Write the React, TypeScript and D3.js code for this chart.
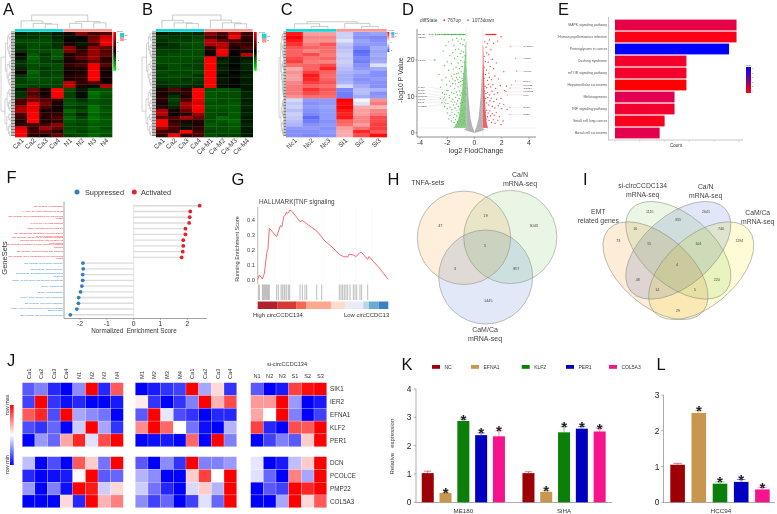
import React from "react";
import * as d3 from "d3";

// heatmaps A, B, C (z-scores read by eye, one row per visible band)
const samplesA = ["Ca1", "Ca2", "Ca3", "Ca4", "N1", "N2", "N3", "N4"];
const samplesB = ["Ca1", "Ca2", "Ca3", "Ca4", "Ca-M1", "Ca-M2", "Ca-M3", "Ca-M4"];
const samplesC = ["Nc1", "Nc2", "Nc3", "Si1", "Si2", "Si3"];

const heatA = [
  [-.15, -.2, -.2, -.1, .1, .55, .25, .35], [-.2, -.2, -.25, -.15, -.05, .05, .45, .8],
  [-.3, -.3, -.3, -.2, .05, -.05, .5, .95], [-.25, -.3, -.3, -.2, .1, -.1, .25, .9],
  [-.2, -.3, -.25, -.2, .55, .1, .55, .4], [-.2, -.3, -.3, -.35, .5, .2, .6, .3],
  [.05, -.35, -.2, -.35, .1, .25, .6, .4], [-.1, -.4, -.25, -.35, .15, .4, .6, .15],
  [-.2, -.35, -.25, -.2, .1, .15, .45, .2], [-.2, -.3, -.3, -.3, .2, .3, .95, .35],
  [-.15, -.3, -.2, -.3, .1, .1, .95, .1], [.05, -.4, -.25, -.25, .05, .1, 1, .05],
  [-.2, -.35, -.25, -.3, .15, .2, 1, .1], [-.25, -.35, -.3, -.3, .1, .15, 1, .05],
  [-.25, -.3, -.3, -.25, .7, .2, .35, .1], [-.3, -.25, -.25, -.25, .75, .1, -.05, .75],
  [-.1, .45, .1, 1, -.3, -.1, -.3, -.3], [-.2, .3, .05, 1, -.25, -.05, -.45, -.35],
  [-.2, .45, .15, 1, -.25, -.05, -.4, -.3], [.3, .5, .35, .2, -.3, -.2, -.35, -.3],
  [.3, .95, .45, .1, -.35, -.3, -.35, -.3], [.6, .9, .3, .05, -.25, -.2, -.45, -.3],
  [.7, .95, .1, .1, -.4, -.3, -.45, -.35], [.3, 1, .15, .2, -.3, -.15, -.4, -.3],
  [.25, 1, .15, .3, -.4, -.25, -.45, -.35], [.1, 1, .1, .2, -.35, -.3, -.4, -.35],
  [.2, .3, .25, .55, -.3, -.25, -.35, -.35], [.9, .2, .65, .4, -.3, -.3, -.4, -.3],
  [1, .25, .35, .15, -.35, -.25, -.35, -.35], [1, .15, .1, .4, -.25, -.3, -.4, -.3],
];
const heatB = [
  [-.1, -.15, -.2, -.15, .55, .3, .75, .25], [-.25, -.2, -.2, -.25, .3, .15, 1, .2],
  [-.2, -.25, -.25, -.3, .7, .4, .3, .15], [-.15, -.2, -.3, -.3, .7, .75, .2, .2],
  [-.2, -.2, -.25, -.3, .2, .7, .1, .3], [-.25, -.25, -.3, -.3, .1, 1, .05, .1],
  [-.25, -.3, -.3, -.3, .05, .9, 0, .75], [-.3, -.3, -.3, -.3, 1, -.1, -.05, -.1],
  [-.3, -.3, -.3, -.25, 1, -.15, -.05, -.15], [-.25, -.3, -.25, -.25, 1, -.1, 0, -.15],
  [-.2, -.3, -.3, -.25, 1, -.15, -.05, -.15], [-.3, -.25, -.25, -.3, 1, -.1, .02, -.1],
  [-.25, -.3, -.3, -.2, 1, -.05, -.05, -.15], [-.25, -.25, -.2, -.25, 1, -.1, -.02, -.1],
  [-.2, -.25, -.25, -.2, 1, -.08, -.02, -.12], [-.15, -.2, -.15, -.15, 1, -.05, 0, -.1],
  [.1, .35, .15, 1, -.3, -.35, -.3, -.1], [.1, -.1, .2, 1, -.35, -.3, -.3, -.15],
  [.15, -.2, .1, 1, -.35, -.3, -.3, -.15], [.15, -.25, .3, .9, -.35, -.3, -.3, -.1],
  [.1, -.2, .65, .85, -.3, -.3, -.35, -.15], [.15, -.15, .6, 1, -.35, -.35, -.35, -.15],
  [.7, .1, .4, .95, -.3, -.3, -.35, -.1], [.7, .05, .15, .6, -.3, -.25, -.35, -.15],
  [.4, .3, .7, .45, -.3, -.4, -.35, -.1], [1, .2, .1, .15, -.3, -.35, -.4, -.1],
  [1, .3, -.1, .1, -.35, -.3, -.35, -.15], [.6, .3, .1, .2, -.3, -.3, -.35, -.1],
  [.3, .2, 1, .25, -.25, -.3, -.3, -.1], [.2, 1, .2, .3, -.3, -.25, -.25, -.1],
];
const heatC = [
  [.9, .35, .35, -.2, -.5, -.45], [1, .45, .45, -.2, -.55, -.6], [.9, .4, .4, -.1, -.45, -.55],
  [.8, .5, .65, -.25, -.5, -.5], [.65, .6, .55, -.3, -.6, -.4], [.6, .45, .55, -.25, -.75, -.45],
  [.6, .7, .5, -.2, -.7, -.4], [.7, .55, .6, -.25, -.6, -.45], [.75, .5, .45, -.2, -.65, -.4],
  [.55, .6, .7, -.25, -.55, -.1], [.3, .6, .85, -.3, -.5, -.4], [.4, .75, .6, -.35, -.4, -.55],
  [.35, .9, .55, -.4, -.5, -.55], [.35, .85, .6, -.4, -.55, -.5], [.45, .75, .65, -.35, -.5, -.55],
  [.5, .6, .55, -.15, -.4, -.55], [.5, .8, .65, -.6, -.3, -.35], [.5, .7, .6, -.65, -.3, -.55],
  [.4, .55, .55, -.65, -.4, -.5], [-.15, -.5, -.5, 1, 0, .4], [-.25, -.55, -.5, .95, -.1, .5],
  [-.2, -.5, -.45, 1, .3, .25], [-.3, -.55, -.5, .9, .35, .45], [-.2, -.6, -.5, .85, .35, .5],
  [-.25, -.75, -.5, .9, .45, .7], [-.3, -.65, -.55, .6, .45, .7], [-.35, -.55, -.5, .55, .35, .75],
  [-.5, -.5, -.55, .35, .55, .75], [-.55, -.55, -.5, .3, .85, .65], [-.55, -.6, -.55, .3, .7, .95],
];

// dendrograms: [merge height, left, right], leaves are indexes
type Tree = number | [number, Tree, Tree];
const colTreeA: Tree = [1, [.57, 0, [.38, 1, [.32, 2, 3]]], [.52, [.38, 4, 5], [.42, 6, 7]]];
const colTreeB: Tree = [1, [.6, 0, [.42, 1, [.38, 2, 3]]], [.62, 4, [.42, 5, [.35, 6, 7]]]];
const colTreeC: Tree = [1, [.7, 0, [.3, 1, 2]], [.75, 3, [.3, 4, 5]]];
const rowTreeAB: Tree = [1,
  [.55, [.35, [.2, 0, [.12, 1, 2]], [.22, [.1, 3, 4], [.14, 5, [.08, 6, 7]]]], [.4, [.18, 8, [.1, 9, 10]], [.28, [.12, 11, 12], [.2, 13, [.1, 14, 15]]]]],
  [.6, [.38, [.2, 16, [.1, 17, 18]], [.24, [.12, 19, 20], [.14, 21, 22]]], [.42, [.22, 23, [.1, 24, 25]], [.26, [.1, 26, 27], [.16, 28, 29]]]]];
const rowTreeC: Tree = [1,
  [.65, [.4, [.22, 0, [.12, 1, 2]], [.25, [.12, 3, 4], [.15, 5, [.08, 6, 7]]]], [.42, [.2, 8, [.1, 9, 10]], [.3, [.12, 11, 12], [.2, [.1, 13, 14], [.14, 15, [.08, 16, [.05, 17, 18]]]]]]],
  [.55, [.32, [.18, 19, [.1, 20, 21]], [.16, 22, [.08, 23, 24]]], [.36, [.15, 25, 26], [.2, 27, [.1, 28, 29]]]]];

// volcano D
const volcanoDown: [number, number][] = [
  [-2.9, 20], [-2.3, 22.5], [-2.1, 24], [-1.9, 25], [-1.6, 25.5], [-1.5, 24], [-1.3, 26], [-1.2, 25.2], [-1.05, 24.6], [-.95, 25.8], [-.85, 24.2], [-.75, 25.5], [-.7, 23.8],
  [-2.6, 16], [-2.2, 18.5], [-2, 19.5], [-1.9, 17.2], [-1.8, 21.2], [-1.7, 19], [-1.6, 22], [-1.55, 17.5], [-1.45, 20.5], [-1.4, 22.8], [-1.35, 18], [-1.3, 16.2], [-1.25, 21], [-1.2, 19.2], [-1.15, 23], [-1.1, 17.6], [-1.05, 21.8], [-1, 19.8], [-.95, 22.5], [-.9, 18.2], [-.85, 20.8], [-.8, 22.2], [-.75, 19.4], [-.7, 21.2], [-.65, 17.5],
  [-2.4, 14.5], [-2.1, 15.2], [-1.85, 14.2], [-1.7, 15.6], [-1.6, 14.8], [-1.5, 16.1], [-1.42, 14.3], [-1.33, 15.1], [-1.22, 14.6], [-1.18, 16.4], [-1.08, 15.3], [-1.02, 14.1], [-.98, 16.8], [-.92, 15], [-.88, 14.4], [-.82, 16.2], [-.78, 15.4], [-.72, 17], [-.68, 14.8],
  [-2.5, 12.5], [-2.35, 11], [-2.2, 10.5], [-2.05, 13.2], [-1.95, 11.6], [-1.85, 10.2], [-1.75, 12.8], [-1.68, 11], [-1.6, 13.5], [-1.52, 10.8], [-1.46, 12.2], [-1.38, 13.4], [-1.32, 11.2], [-1.26, 10.4], [-1.2, 12.6], [-1.14, 13.8], [-1.1, 11.5], [-1.04, 10.3], [-1, 12.9], [-.96, 11], [-.9, 13.3], [-.86, 10.6], [-.82, 12], [-.77, 13.6], [-.74, 11.2], [-.68, 12.4], [-.64, 10.5],
  [-2.5, 9.4], [-2.4, 8.2], [-2.2, 7.2], [-2.1, 9], [-2, 6.6], [-1.95, 8], [-1.85, 9.6], [-1.8, 7], [-1.72, 8.6], [-1.66, 6.3], [-1.6, 9.2], [-1.55, 7.6], [-1.48, 8.4], [-1.42, 6.8], [-1.38, 9.7], [-1.32, 7.9], [-1.28, 6.2], [-1.24, 8.8], [-1.18, 7.2], [-1.12, 9.4], [-1.08, 6.5], [-1.04, 8.1], [-.98, 7.4], [-.94, 9.1], [-.9, 6.2], [-.86, 8.3], [-.8, 9.5], [-.76, 7], [-.72, 8.7], [-.66, 6.4],
  [-2, 5.4], [-1.9, 3.8], [-1.8, 4.8], [-1.7, 3.2], [-1.65, 5.6], [-1.55, 4.2], [-1.5, 2.8], [-1.45, 5], [-1.4, 3.6], [-1.35, 2.2], [-1.3, 4.6], [-1.25, 3], [-1.2, 5.5], [-1.15, 2.5], [-1.1, 4], [-1.05, 3.2], [-1, 5], [-.98, 2.2], [-.92, 3.6], [-.88, 4.6], [-.84, 2.6], [-.78, 5.2], [-.74, 3.2], [-.7, 4.3], [-.66, 2.4],
];
const volcanoDownTop = [-3.3, -3.1, -2.85, -2.7, -2.55, -2.4, -2.3, -2.2, -2.1, -2, -1.9, -1.8, -1.7, -1.6, -1.5, -1.4, -1.3, -1.2, -1.1, -1, -.9, -.8, -.7];
const volcanoUp: [number, number][] = [
  [1.95, 26.4], [1.7, 25.2], [1.4, 24.6], [1.1, 25.5], [.95, 24.5], [.85, 23.5], [.75, 25], [.9, 22], [1.05, 21.5], [1.2, 22.8], [.72, 21], [.8, 19.6], [1, 19.4], [1.15, 18.2], [1.3, 20.2], [1.4, 17.6], [1.6, 19.2], [.7, 18], [.88, 17.2], [1.05, 16.4],
  [2.15, 16.8], [1.75, 14.8], [1.5, 15.6], [1.25, 14.6], [1.1, 15.2], [.95, 14.4], [.8, 16], [.7, 15], [.66, 13.4], [.78, 12.8], [.9, 12.4], [1.02, 13.3], [1.18, 12.6], [1.35, 13.2], [1.55, 12.2], [1.9, 13], [2.2, 11.6], [2.35, 12.8], [1.7, 11], [1.45, 10.6], [1.28, 11.4], [1.1, 10.4], [.96, 11.1], [.84, 10.8], [.72, 11.5],
  [.66, 9.6], [.74, 8.8], [.82, 9.4], [.9, 8.2], [.98, 9.7], [1.05, 7.6], [1.14, 8.8], [1.22, 9.5], [1.3, 7.2], [1.42, 8.6], [1.5, 6.8], [1.62, 9.2], [1.74, 7.4], [1.86, 8], [2, 6.6], [2.15, 7.8], [2.4, 6.4], [1.95, 9.4],
  [.66, 6], [.72, 4.8], [.78, 5.6], [.84, 3.8], [.9, 6.2], [.95, 4.4], [1, 5.4], [1.06, 3.4], [1.12, 6], [1.18, 4.6], [1.25, 2.8], [1.3, 5.2], [1.38, 3.6], [1.45, 4.8], [1.52, 2.6], [1.6, 5.6], [1.72, 3.4], [1.82, 4.4], [1.95, 2.2], [2.1, 3.2],
];
const volcanoUpTop = [.85, .92, 1, 1.08, 1.16, 1.24, 1.32, 1.4, 1.48, 1.56];
const denseDownEdge = [[1.3, -1.55], [2.5, -1.3], [4, -1.15], [7, -1.05], [10, -.95], [14, -.85], [18, -.78], [22, -.68], [25, -.64]];
const denseUpEdge = [[1.3, 1], [2.5, .9], [4, .85], [7, .8], [10, .75], [14, .72], [18, .68], [22, .66], [24, .64]];
const greyOuter = [[0, .05], [.4, .45], [.8, .75], [1.3, .6], [4, .6], [10, .6], [16, .6], [19, .58]];
const greyInner = [[0, 0], [.4, .02], [.8, .05], [1.3, .12], [4, .3], [10, .45], [16, .54], [19, .58]];
const volcanoLeftGenes = ["SNX21", "HBEGF", "FOXP1", "PADI3", "SLK2A", "GPR84", "PRELID1", "FOXL1", "DKK3", "LHCBE1"];
const volcanoLeftLogFc = [-2.65, -2.6, -2.95, -2.05, -2.05, -2.2, -2.25, -2.3, -2.2, -2.1];
const volcanoLeftP = [27, 27, 20, 11.6, 10.6, 9.8, 9.4, 9, 8.4, 8];
const volcanoLeftLabelP = [27, 26.2, 20, 12.6, 11.6, 10.8, 10, 9.2, 8.4, 7.2];
const volcanoRightGenes = ["CXCR7L4", "USP28", "FOXM1", "EGR1", "NR4C2B", "COMEV", "KCNRG2", "PIK6", "BTG2", "SRSF"];
const volcanoRightLogFc = [2.65, 3, 3.1, 3, 2.7, 2.6, 2.3, 2.4, 2.6, 2.6];
const volcanoRightP = [23.8, 20.5, 17, 14.2, 13.2, 12.3, 11.3, 10.4, 6.9, 5];

// E
const pathways = ["MAPK signaling pathway", "Human papillomavirus infection", "Proteoglycans in cancer", "Cushing syndrome", "mTOR signaling pathway", "Hepatocellular carcinoma", "Melanogenesis", "TNF signaling pathway", "Small cell lung cancer", "Basal cell carcinoma"];
const pathwayCount = [24.5, 24.5, 23, 14.4, 14.4, 14.4, 12, 12, 10, 9];
const pathwayPadj = [5.1, 4.2, 9, 4.5, 4.5, 4, 5.3, 4.6, 4.3, 5.2];

// F
const activatedSets = [
  "REACTOME | Keratinization", "HALLMARK | TNFA signaling via NFKB", "REACTOME | Gene modifications in the nucleus and\ncytosol", "HALLMARK | IL6 Jak3 signaling",
  "KEGG | Circadian rhythm mammal", "GO | Extracellular interaction of human immune\nor cells infection response", "REACTOME | Complex of IL-1 induced regulated\nresponse during nitrosyl and released cell\nextravasation",
  "REACTOME | Regulation of mRNA stability by proteins\npromoter", "REACTOME | Interferon alpha beta signaling", "REACTOME | Gene modifications in the nucleus and\ncytosol",
];
const activatedNes = [2.46, 2.11, 2.09, 2.07, 1.93, 1.93, 1.85, 1.85, 1.83, 1.79];
const suppressedSets = [
  "REACTOME | Nucleosome assembly", "REACTOME | Chunk assembly", "REACTOME | Synthesis of Ubiquinated 5 and\nGNSS ds", "KEGG | Glycine serine and threonine metabolism", "GPCL | Phospholipid",
  "KEGG | Lipid transporter", "GPCL | Gene carbonyl redox metabolism", "REACTOME | Lipid protein assembly", "GPCL | Gene related to primary cilium cell division\nbased on dose", "REACTOME | Cellular bound architecture",
];
const suppressedNes = [-1.89, -1.88, -1.9, -1.9, -1.93, -1.98, -2.05, -2.06, -2.12, -2.36];

// G
const gseaRank = [0, 1.3, 3.6, 5.1, 7.1, 7.9, 8.9, 14.5, 16.3, 17.3, 18.6, 19.9, 21.2, 21.9, 23.2, 24.7, 26.5, 32.4, 34.2, 36.2, 38.8, 45.2, 51.5, 56.6, 62.5, 65.6, 68.9, 69.9, 73.2, 75.3, 78.3, 79.6, 84.2, 85.2, 92.3, 100];
const gseaScore = [0, .029, .002, .04, .187, .209, .344, .288, .333, .362, .355, .422, .434, .452, .445, .467, .456, .389, .396, .384, .366, .326, .258, .22, .169, .153, .151, .169, .164, .153, .182, .18, .135, .153, .085, 0];
const gseaHits = [.5, 1.3, 3.6, 4.3, 5.1, 5.9, 6.6, 7.4, 8.2, 8.9, 14.5, 15.8, 17.9, 18.9, 20.2, 20.9, 22.2, 23.5, 24.5, 32.4, 34.2, 36.2, 37.5, 45.2, 49, 62.5, 63.8, 65, 66.3, 67.6, 68.9, 70.7, 73.2, 74.5, 75.8, 78.3, 79.6, 84.2];
const rankBreaks = [0, 15.3, 29.8, 37, 56.1, 67.3, 80.8, 85.2, 92.6, 100];
const rankColors = ["#b2222c", "#d73a35", "#f4694f", "#fca98f", "#fddccb", "#e8ecf7", "#b8d6e8", "#6aaad5", "#3a82c0"];

// H, I
const vennHCounts = ["47", "19", "3043", "5", "3", "857", "1445"];
const vennICounts = ["1115", "355", "2641", "16", "740", "73", "15", "104", "1194", "4", "48", "224", "14", "5", "29"];

// J
const genesTop = ["SIK1", "IER2", "EFNA1", "KLF2", "PER1"];
const genesBottom = ["DCN", "PCOLCE", "PMP22", "COL5A3"];
const colsJ1 = ["Ca1", "Ca2", "Ca3", "Ca4", "N1", "N2", "N3", "N4"];
const colsJ2 = ["M1", "M2", "M3", "M4", "Ca1", "Ca2", "Ca3", "Ca4"];
const colsJ3 = ["N1", "N2", "N3", "S1", "S2", "S3"];
const j1Top = [[-.65, -.5, -.85, -1, -.45, 1, -.85, .65], [-.75, 1, -.8, -.95, -.85, -1, -1, -.9], [.65, .85, -.7, 1, -.35, -.45, -.55, -1], [-.7, -.8, -.6, -1, -.2, 1, -.35, -.8], [-1, -.4, -.6, .35, .85, -.12, .7, 1]];
const j1Bottom = [[-.25, -1, -.7, -1, .65, .2, -.55, 1], [-.85, -1, -.95, -.9, .02, 1, -.65, -.6], [-.4, -1, -.5, -.95, 1, .9, -.2, .15], [-1, -1, -1, .15, -.85, 1, .3, .5]];
const j2Top = [[-1, -.9, -.8, -.75, 1, -.35, .15, -.8], [.08, -.8, -1, -.8, -.5, 1, .3, .7], [-.65, 1, -.1, -.7, -.8, -1, -.85, -.85], [.45, 1, .6, 0, -.55, -.95, -1, -.3], [-1, -.95, -.9, -1, .6, -1, 1, -.5]];
const j2Bottom = [[-.65, -1, -.45, -.8, 1, -.5, -.5, -.4], [-.3, -.45, -1, -1, .2, .75, 0, 1], [-.2, -.55, -.85, -1, -.15, .2, -.3, 1], [-.45, -.75, -.6, -1, -.75, -.12, -.6, 1]];
const j3Top = [[-.65, -1, -.9, .75, .95, 1], [.4, .4, 1, -.4, -1, -.9], [.35, 0, 1, -.5, -1, -.75], [.75, -.85, -1, .7, .65, 1], [-1, -.75, -.5, -.65, .2, 1]];
const j3Bottom = [[-.1, -1, -.9, -.25, .2, 1], [-.12, -.6, -1, .5, -.35, 1], [-1, -.65, -.75, 1, .85, 1], [-1, -1, -.35, 1, .15, .65]];

// K, L
const treatments = ["NC", "EFNA1", "KLF2", "PER1", "COL5A3"];
const treatmentColors = ["#9c0006", "#c8964f", "#0a800a", "#0000c0", "#f5148c"];
const me180 = [1.03, .33, 2.87, 2.37, 2.33];
const me180Err = [.07, .02, .07, .08, .2];
const siha = [1.03, .37, 2.47, 2.6, 2.5];
const sihaErr = [.05, .04, .2, .08, .12];
const hcc94 = [1.05, 2.5, .52, .57, .36];
const hcc94Err = [.04, .06, .05, .07, .06];

const redGreen = d3.scaleLinear<string>().domain([-1, 0, 1]).range(["#00ff00", "#000000", "#ff0000"]);
const blueRedSoft = d3.scaleLinear<string>().domain([-1, 0, 1]).range(["#2a3fff", "#f4f4f4", "#ff0000"]);
const blueRed = d3.scaleLinear<string>().domain([-1, 0, 1]).range(["#0000ff", "#ffffff", "#ff0000"]);
const padjColor = d3.scaleLinear<string>().domain([4, 9]).range(["#ff0000", "#0000ff"]).interpolate(d3.interpolateLab);

const dendroPath = (tree: Tree, leaf: (i: number) => number, level: (h: number) => number, horizontal = false) => {
  const root = d3.hierarchy<Tree>(tree, (d) => (Array.isArray(d) ? (d.slice(1) as Tree[]) : null));
  const pos = new Map<any, number>();
  const path = d3.path();
  const h = (n: any) => (n.children ? level(n.data[0]) : level(0));
  root.eachAfter((n: any) => {
    if (!n.children) {
      pos.set(n, leaf(n.data));
      return;
    }
    const [a, b] = n.children;
    const pa = pos.get(a)!;
    const pb = pos.get(b)!;
    if (horizontal) {
      path.moveTo(h(a), pa);
      path.lineTo(h(n), pa);
      path.lineTo(h(n), pb);
      path.lineTo(h(b), pb);
    } else {
      path.moveTo(pa, h(a));
      path.lineTo(pa, h(n));
      path.lineTo(pb, h(n));
      path.lineTo(pb, h(b));
    }
    pos.set(n, (pa + pb) / 2);
  });
  return path.toString();
};

const Letter = ({ x, y, t }: { x: number; y: number; t: string }) => (
  <text x={x} y={y} fontSize={16.5} fill="#111">{t}</text>
);

const Cells = ({ rows, x0, x1, y0, y1, color, line }: any) => {
  const xs = d3.scaleBand<number>().domain(d3.range(rows[0].length)).range([x0, x1]);
  const ys = d3.scaleBand<number>().domain(d3.range(rows.length)).range([y0, y1]);
  return (
    <g>
      {rows.map((r: number[], i: number) =>
        r.map((v, j) => (
          <rect key={`${i}-${j}`} x={xs(j)} y={ys(i)} width={xs.bandwidth() + (line ? 0 : .3)} height={ys.bandwidth() + (line ? 0 : .3)} fill={color(v)} stroke={line ? "#fff" : "none"} strokeOpacity={.5} strokeWidth={line ? .4 : 0} />
        ))
      )}
    </g>
  );
};

const Clustered = ({ rows, samples, colTree, rowTree, color, x0, x1, split, dendL, dendR, annotTop, rootTop }: any) => {
  const y0 = 32;
  const y1 = 137;
  const xs = d3.scaleBand<number>().domain(d3.range(samples.length)).range([x0, x1]);
  const ys = d3.scaleBand<number>().domain(d3.range(rows.length)).range([y0, y1]);
  const colPath = dendroPath(colTree, (i) => xs(i)! + xs.bandwidth() / 2, d3.scaleLinear().domain([0, 1]).range([annotTop - .5, rootTop]), false);
  const rowPath = dendroPath(rowTree, (i) => ys(i)! + ys.bandwidth() / 2, d3.scaleLinear().domain([0, 1]).range([dendR, dendL]), true);
  return (
    <g>
      <path d={colPath} fill="none" stroke="#a8a8a8" strokeWidth={.6} />
      <path d={rowPath} fill="none" stroke="#a8a8a8" strokeWidth={.5} />
      {d3.range(y0, y1, 1.5).map((y) => (
        <line key={y} x1={dendR} x2={x0} y1={y} y2={y} stroke="#222" strokeWidth={.6} />
      ))}
      <rect x={x0} y={annotTop} width={xs(split)! - x0} height={2.8} fill="#19d5dd" />
      <rect x={xs(split)} y={annotTop} width={x1 - xs(split)!} height={2.8} fill="#f59a96" />
      <Cells rows={rows} x0={x0} x1={x1} y0={y0} y1={y1} color={color} />
      {samples.map((s: string, i: number) => (
        <text key={s} transform={`translate(${xs(i)! + xs.bandwidth() / 2 + 3},141) rotate(-45)`} textAnchor="end" fontSize={6.6} fill="#333">{s}</text>
      ))}
    </g>
  );
};

const ColorBar = ({ id, x, y, w, h, labels }: any) => (
  <g>
    <rect x={x} y={y} width={w} height={h} fill={`url(#${id})`} />
    {labels.map((t: string, i: number) => (
      <text key={t} x={x + w + 1} y={y + 2 + (i * (h - 3)) / (labels.length - 1)} fontSize={2.4} fill="#555">{t}</text>
    ))}
  </g>
);

const GroupKey = ({ x, y, size }: any) => (
  <g fontSize={2.4} fill="#555">
    <text x={x - 3} y={y - 1}>group</text>
    <rect x={x} y={y} width={size} height={size} fill="#19d5dd" />
    <rect x={x} y={y + size} width={size} height={size} fill="#f59a96" />
    <text x={x + size + .5} y={y + size * .7}>Ca</text>
    <text x={x + size + .5} y={y + size * 1.7}>N</text>
  </g>
);

const PanelD = () => {
  const x = d3.scaleLinear().domain([-4, 4]).range([420, 529]);
  const y = d3.scaleLinear().domain([0, 20]).range([132.7, 60]);
  const dense = (edge: number[][], inner: number) =>
    d3.area<number[]>().y((d) => y(d[0])).x0(x(inner)).x1((d) => x(d[1])).curve(d3.curveBasis)(edge)!;
  const grey = (sign: number) =>
    d3.area<number>().y((_, i) => y(greyOuter[i][0])).x0((_, i) => x(sign * greyInner[i][1])).x1((_, i) => x(sign * greyOuter[i][1]))(d3.range(greyOuter.length))!;
  return (
    <g>
      <line x1={417} x2={417} y1={29} y2={137} stroke="#444" strokeWidth={.6} />
      <line x1={417} x2={536} y1={137} y2={137} stroke="#444" strokeWidth={.6} />
      {[0, 10, 20].map((t) => (
        <g key={t}>
          <line x1={415.5} x2={417} y1={y(t)} y2={y(t)} stroke="#444" strokeWidth={.5} />
          <text x={414.5} y={y(t) + 2.4} fontSize={6.8} textAnchor="end" fill="#333">{t}</text>
        </g>
      ))}
      {[-4, -2, 0, 2, 4].map((t) => (
        <g key={t}>
          <line x1={x(t)} x2={x(t)} y1={137} y2={138.5} stroke="#444" strokeWidth={.5} />
          <text x={x(t)} y={144.5} fontSize={6.8} textAnchor="middle" fill="#333">{t < 0 ? `-${-t}` : t}</text>
        </g>
      ))}
      <text transform="translate(403,80) rotate(-90)" textAnchor="middle" fontSize={7} fill="#333">-log10 P Value</text>
      <text x={476} y={152.5} textAnchor="middle" fontSize={7.2} fill="#333">log2 FlodChange</text>
      <text x={420} y={22} fontSize={4.8} fill="#444">diffState</text>
      <circle cx={444.3} cy={20.2} r={.9} fill="#ee2a30" />
      <text x={447.5} y={22} fontSize={4.8} fill="#444">767up</text>
      <circle cx={468} cy={20.2} r={.9} fill="#4fb34a" />
      <text x={472} y={22} fontSize={4.8} fill="#444">1073down</text>
      <path d={grey(-1)} fill="#b2b4b4" />
      <path d={grey(1)} fill="#b2b4b4" />
      <path d={dense(denseDownEdge, -.6)} fill="#4fb34a" fillOpacity={.65} />
      <path d={dense(denseUpEdge, .6)} fill="#ee2a30" fillOpacity={.75} />
      {volcanoDown.map((d, i) => <circle key={i} cx={x(d[0])} cy={y(d[1])} r={.7} fill="#66c05f" />)}
      {volcanoUp.map((d, i) => <circle key={i} cx={x(d[0])} cy={y(d[1])} r={.7} fill="#f0454a" />)}
      {volcanoDownTop.map((d) => <circle key={d} cx={x(d)} cy={y(27)} r={.8} fill="#4fb34a" />)}
      {volcanoUpTop.map((d) => <circle key={d} cx={x(d)} cy={y(27)} r={.8} fill="#ee2a30" />)}
      <line x1={417} x2={536} y1={y(1.3)} y2={y(1.3)} stroke="#bcd8dc" strokeWidth={.5} strokeDasharray="1 1" />
      <line x1={x(-.6)} x2={x(-.6)} y1={29} y2={137} stroke="#bcd8dc" strokeWidth={.5} strokeDasharray="1 1" />
      <line x1={x(.6)} x2={x(.6)} y1={29} y2={137} stroke="#bcd8dc" strokeWidth={.5} strokeDasharray="1 1" />
      {volcanoLeftGenes.map((g, i) => (
        <g key={g}>
          <line x1={429} x2={x(volcanoLeftLogFc[i])} y1={y(volcanoLeftLabelP[i])} y2={y(volcanoLeftP[i])} stroke="#c4c4c4" strokeWidth={.3} />
          <circle cx={x(volcanoLeftLogFc[i])} cy={y(volcanoLeftP[i])} r={.5} fill="#5cbb55" />
          <text x={418} y={y(volcanoLeftLabelP[i]) + .8} fontSize={2.3} fill="#444">{g}</text>
        </g>
      ))}
      {volcanoRightGenes.map((g, i) => (
        <g key={g}>
          <line x1={x(volcanoRightLogFc[i])} x2={523} y1={y(volcanoRightP[i])} y2={y(volcanoRightP[i])} stroke="#d8c4c4" strokeWidth={.3} />
          <circle cx={x(volcanoRightLogFc[i])} cy={y(volcanoRightP[i])} r={.5} fill="#f0454a" />
          <text x={523.5} y={y(volcanoRightP[i]) + .8} fontSize={2.3} fill="#444">{g}</text>
        </g>
      ))}
    </g>
  );
};

const PanelE = () => {
  const x = d3.scaleLinear().domain([0, 25]).range([615, 739]);
  const y = d3.scaleBand().domain(pathways).range([19, 139]).paddingInner(.1).paddingOuter(.05);
  return (
    <g>
      <line x1={608.5} x2={608.5} y1={17} y2={140.5} stroke="#c8c8c8" strokeWidth={1} />
      <line x1={608} x2={743} y1={140} y2={140} stroke="#c8c8c8" strokeWidth={1} />
      {pathways.map((p, i) => (
        <g key={p}>
          <rect x={x(0)} y={y(p)} width={x(pathwayCount[i]) - x(0)} height={y.bandwidth()} fill={padjColor(pathwayPadj[i])} />
          <text x={607} y={y(p)! + y.bandwidth() / 2 + 1.2} textAnchor="end" fontSize={3.5} fill="#555">{p}</text>
        </g>
      ))}
      {x.ticks(5).map((t) => <line key={t} x1={x(t)} x2={x(t)} y1={140.5} y2={142} stroke="#999" strokeWidth={.4} />)}
      <text x={676} y={147} textAnchor="middle" fontSize={4.5} fill="#333">Count</text>
      <text x={746} y={66} fontSize={2.4} fill="#555">padj</text>
      <ColorBar id="padjGrad" x={746} y={67} w={5} h={26} labels={["9", "8", "7", "6", "5", "4"]} />
    </g>
  );
};

const PanelF = () => {
  const x = d3.scaleLinear().domain([-2, 2]).range([80, 187.3]);
  const sets = [...activatedSets, ...suppressedSets];
  const nes = [...activatedNes, ...suppressedNes];
  const y = d3.scalePoint<number>().domain(d3.range(sets.length)).range([205.7, 314.8]);
  return (
    <g>
      <circle cx={77} cy={192} r={2.5} fill="#2f7fc1" />
      <text x={85} y={194.6} fontSize={7.3} fill="#333">Suppressed</text>
      <circle cx={134.3} cy={192} r={2.5} fill="#e8202a" />
      <text x={141} y={194.6} fontSize={7.3} fill="#333">Activated</text>
      <line x1={64} x2={64} y1={201.7} y2={318.5} stroke="#666" strokeWidth={.6} />
      <line x1={64} x2={207} y1={318.5} y2={318.5} stroke="#666" strokeWidth={.6} />
      <line x1={x(0)} x2={x(0)} y1={204.5} y2={318} stroke="#c8c8c8" strokeWidth={.5} />
      {sets.map((s, i) => {
        const lines = s.split("\n");
        const c = nes[i] > 0 ? "#e8202a" : "#2f7fc1";
        return (
          <g key={i}>
            <line x1={x(0)} x2={x(nes[i])} y1={y(i)} y2={y(i)} stroke="#dcdcdc" strokeWidth={1.4} />
            <circle cx={x(nes[i])} cy={y(i)} r={1.9} fill={c} />
            <text x={63} y={y(i)! + .8 - (lines.length - 1) * 1.3} textAnchor="end" fontSize={2.35} fill={c}>
              {lines.map((l, k) => <tspan key={k} x={63} dy={k ? 2.6 : 0}>{l}</tspan>)}
            </text>
          </g>
        );
      })}
      {[-2, -1, 0, 1, 2].map((t) => (
        <g key={t}>
          <line x1={x(t)} x2={x(t)} y1={318.5} y2={320} stroke="#666" strokeWidth={.5} />
          <text x={x(t)} y={325.5} textAnchor="middle" fontSize={6.8} fill="#333">{t}</text>
        </g>
      ))}
      <text x={134} y={333} textAnchor="middle" fontSize={6.3} fill="#333" xmlSpace="preserve">Normalized  Enrichment Score</text>
      <text transform="translate(6.5,258) rotate(-90)" textAnchor="middle" fontSize={7.5} fill="#333">GeneSets</text>
    </g>
  );
};

const PanelG = () => {
  const x = d3.scaleLinear().domain([0, 100]).range([257.7, 388.3]);
  const y = d3.scaleLinear().domain([0, .4]).range([279.3, 220]);
  const curve = d3.line<number>().x((d) => x(d)).y((_, i) => y(gseaScore[i]))(gseaRank)!;
  return (
    <g>
      {[12.5, 25, 50, 62.5, 75, 87.5].map((t) => <line key={t} x1={x(t)} x2={x(t)} y1={207} y2={282} stroke="#f2f2f2" strokeWidth={.5} />)}
      <line x1={257.7} x2={257.7} y1={206.5} y2={284} stroke="#aaa" strokeWidth={.8} />
      <path d={curve} fill="none" stroke="#f4434a" strokeWidth={.8} />
      {y.ticks(4).map((t) => (
        <text key={t} x={255} y={y(t) + 2.2} textAnchor="end" fontSize={5.8} fill="#444">{t.toFixed(1)}</text>
      ))}
      {gseaHits.map((h) => <line key={h} x1={x(h)} x2={x(h)} y1={284.5} y2={300} stroke="#8f8f8f" strokeWidth={.6} />)}
      {rankColors.map((c, i) => (
        <rect key={c} x={x(rankBreaks[i])} y={301.5} width={x(rankBreaks[i + 1]) - x(rankBreaks[i])} height={7.5} fill={c} />
      ))}
      <text x={259} y={203.5} fontSize={6.4} fill="#444">HALLMARK|TNF signaling</text>
      <text transform="translate(239,249) rotate(-90)" textAnchor="middle" fontSize={5.5} fill="#444">Running Enrichment Score</text>
      <text x={253} y={317} fontSize={5.9} fill="#333">High circCCDC134</text>
      <text x={344} y={317} fontSize={5.9} fill="#333">Low circCCDC13</text>
    </g>
  );
};

const PanelH = () => {
  const circles = [
    { cx: 464, cy: 237.8, r: 46.7, fill: "#feefdc" },
    { cx: 510.3, cy: 237, r: 46.6, fill: "#e9f6e6" },
    { cx: 485.7, cy: 277, r: 47, fill: "#e1e9f8" },
  ];
  const pos = [[440.3, 226], [485.7, 215.7], [533.7, 225.3], [485, 246], [455, 269], [516.3, 268.7], [488.3, 300.3]];
  return (
    <g>
      <g style={{ isolation: "isolate" }}>
        {circles.map((c) => <circle key={c.cx} {...c} style={{ mixBlendMode: "multiply" }} />)}
      </g>
      {circles.map((c) => <circle key={c.cx} cx={c.cx} cy={c.cy} r={c.r} fill="none" stroke="#85857a" strokeWidth={.5} />)}
      {vennHCounts.map((t, i) => <text key={t} x={pos[i][0]} y={pos[i][1] + 1.3} textAnchor="middle" fontSize={3.8} fill="#444">{t}</text>)}
      <g fontSize={7} fill="#444" textAnchor="middle">
        <text x={427.7} y={184.5}>TNFA-sets</text>
        <text x={520} y={177}>Ca/N</text>
        <text x={520} y={185.5}>mRNA-seq</text>
        <text x={485} y={332}>CaM/Ca</text>
        <text x={485} y={341}>mRNA-seq</text>
      </g>
    </g>
  );
};

const PanelI = () => {
  const ellipses = [
    { cx: 655.5, cy: 270.7, a: 41, fill: "#fcecd8" },
    { cx: 678.3, cy: 250.3, a: 41, fill: "#ebf6e4" },
    { cx: 678.3, cy: 250.3, a: -41, fill: "#e1e7f8" },
    { cx: 701.2, cy: 270.7, a: -41, fill: "#fdfcd6" },
  ];
  const pos = [[649.7, 211.7], [678, 219.3], [706, 211.3], [635.3, 228.7], [721, 228.3], [618.3, 241], [649, 244], [698.3, 244], [739.3, 240.7], [677, 264.3], [637.7, 279.3], [716.7, 279.3], [657.3, 290], [695, 290], [678, 310.3]];
  const shape = (e: any, props: any) => (
    <ellipse cx={0} cy={0} rx={62.7} ry={35} transform={`translate(${e.cx},${e.cy}) rotate(${e.a})`} {...props} />
  );
  return (
    <g>
      <g style={{ isolation: "isolate" }}>
        {ellipses.map((e) => <g key={e.fill}>{shape(e, { fill: e.fill, style: { mixBlendMode: "multiply" } })}</g>)}
      </g>
      {ellipses.map((e) => <g key={e.fill}>{shape(e, { fill: "none", stroke: "#85857a", strokeWidth: .5 })}</g>)}
      {vennICounts.map((t, i) => <text key={i} x={pos[i][0]} y={pos[i][1] + 1.3} textAnchor="middle" fontSize={3.6} fill="#444">{t}</text>)}
      <g fontSize={6.8} fill="#444" textAnchor="middle">
        <text x={642.7} y={187.5}>si-circCCDC134</text>
        <text x={642.7} y={197}>mRNA-seq</text>
        <text x={705.7} y={189}>Ca/N</text>
        <text x={705.7} y={197.5}>mRNA-seq</text>
        <text x={598.3} y={213.5}>EMT</text>
        <text x={598.3} y={222.5}>related genes</text>
        <text x={757.7} y={215}>CaM/Ca</text>
        <text x={757.7} y={223.5}>mRNA-seq</text>
      </g>
    </g>
  );
};

const PanelJ = () => {
  const blocks = [
    { x0: 22.3, x1: 123.3, top: j1Top, bottom: j1Bottom, cols: colsJ1 },
    { x0: 135.3, x1: 236.7, top: j2Top, bottom: j2Bottom, cols: colsJ2 },
    { x0: 250.7, x1: 326.7, top: j3Top, bottom: j3Bottom, cols: colsJ3 },
  ];
  const yTop = d3.scaleBand().domain(genesTop).range([382.7, 446.7]);
  const yBottom = d3.scaleBand().domain(genesBottom).range([456.7, 507.7]);
  return (
    <g>
      {blocks.map((b, k) => {
        const xs = d3.scaleBand().domain(b.cols).range([b.x0, b.x1]);
        return (
          <g key={k}>
            <Cells rows={b.top} x0={b.x0} x1={b.x1} y0={382.7} y1={446.7} color={blueRed} line />
            <Cells rows={b.bottom} x0={b.x0} x1={b.x1} y0={456.7} y1={507.7} color={blueRed} line />
            {b.cols.map((c) => {
              const cx = xs(c)! + xs.bandwidth() / 2;
              return k < 2 ? (
                <text key={c} transform={`translate(${cx + 2},379) rotate(-90)`} fontSize={5.6} fill="#333">{c}</text>
              ) : (
                <text key={c} x={cx} y={378} textAnchor="middle" fontSize={5.6} fill="#333">{c}</text>
              );
            })}
          </g>
        );
      })}
      <text x={287} y={366} textAnchor="middle" fontSize={5.6} fill="#333">si-circCCDC134</text>
      {genesTop.map((g) => <text key={g} x={330} y={yTop(g)! + yTop.bandwidth() / 2 + 2.2} fontSize={6.3} fill="#333">{g}</text>)}
      {genesBottom.map((g) => <text key={g} x={330} y={yBottom(g)! + yBottom.bandwidth() / 2 + 2.2} fontSize={6.3} fill="#333">{g}</text>)}
      <rect x={10} y={405} width={3.7} height={60} fill="url(#rowGrad)" />
      <text transform="translate(9,415) rotate(-90)" fontSize={5.4} fill="#333">row max</text>
      <text transform="translate(9,474) rotate(-90)" fontSize={5.4} fill="#333">row min</text>
    </g>
  );
};

const Bars = ({ values, errs, cx, step, width, y }: any) => (
  <g>
    {values.map((v: number, i: number) => {
      const c = cx + (i - 2) * step;
      const top = y(v + errs[i]);
      const stroke = treatmentColors[i];
      return (
        <g key={i}>
          <line x1={c} x2={c} y1={y(v)} y2={top} stroke={stroke} strokeOpacity={.55} strokeWidth={.9} />
          <line x1={c - width * .3} x2={c + width * .3} y1={top} y2={top} stroke={stroke} strokeOpacity={.55} strokeWidth={.9} />
          <rect x={c - width / 2} y={y(v)} width={width} height={y(0) - y(v)} fill={stroke} />
        </g>
      );
    })}
  </g>
);

const Stars = ({ values, errs, cx, step, y, from }: any) => (
  <g>
    {values.map((v: number, i: number) => (i < from ? null : (
      <text key={i} x={cx + (i - 2) * step} y={y(v + errs[i]) + 5.5} textAnchor="middle" fontSize={15} fontWeight="bold" fill="#222">*</text>
    )))}
  </g>
);

const PanelK = () => {
  const y = d3.scaleLinear().domain([0, 4]).range([502.3, 389]);
  const outer = d3.scaleBand().domain(["ME180", "SiHA"]).range([413, 614.4]);
  const mid = (g: string) => outer(g)! + outer.bandwidth() / 2;
  const legendX = [432, 471, 521.7, 566, 609];
  return (
    <g>
      <line x1={416} x2={416} y1={389} y2={503} stroke="#888" strokeWidth={.7} />
      <line x1={416} x2={612} y1={502.5} y2={502.5} stroke="#888" strokeWidth={.7} />
      {y.ticks(4).map((t) => (
        <g key={t}>
          <line x1={413.5} x2={416} y1={y(t)} y2={y(t)} stroke="#888" strokeWidth={.6} />
          <text x={411.5} y={y(t) + 3} textAnchor="end" fontSize={8.4} fill="#222">{t}</text>
        </g>
      ))}
      <text transform="translate(394,446.7) rotate(-90)" textAnchor="middle" fontSize={6} fill="#333" xmlSpace="preserve">Relative   expression</text>
      <Bars values={me180} errs={me180Err} cx={mid("ME180")} step={17.8} width={12} y={y} />
      <Stars values={me180} errs={me180Err} cx={mid("ME180")} step={17.8} y={y} from={1} />
      <Bars values={siha} errs={sihaErr} cx={mid("SiHA")} step={17.8} width={12} y={y} />
      <Stars values={siha} errs={sihaErr} cx={mid("SiHA")} step={17.8} y={y} from={1} />
      {outer.domain().map((g) => <text key={g} x={mid(g)} y={513} textAnchor="middle" fontSize={6.2} fill="#333">{g}</text>)}
      {treatments.map((t, i) => (
        <g key={t}>
          <rect x={legendX[i]} y={365} width={8} height={3.8} fill={treatmentColors[i]} />
          <text x={legendX[i] + 12.5} y={368.8} fontSize={5} fill="#333">{t}</text>
        </g>
      ))}
    </g>
  );
};

const PanelL = () => {
  const y = d3.scaleLinear().domain([0, 3]).range([502.3, 395]);
  return (
    <g>
      <line x1={663.5} x2={663.5} y1={395} y2={503} stroke="#888" strokeWidth={.7} />
      <line x1={663.5} x2={775} y1={502.5} y2={502.5} stroke="#888" strokeWidth={.7} />
      {y.ticks(3).map((t) => (
        <g key={t}>
          <line x1={661} x2={663.5} y1={y(t)} y2={y(t)} stroke="#888" strokeWidth={.6} />
          <text x={659.5} y={y(t) + 3} textAnchor="end" fontSize={8.4} fill="#222">{t}</text>
        </g>
      ))}
      <Bars values={hcc94} errs={hcc94Err} cx={720} step={21.2} width={14.6} y={y} />
      <Stars values={hcc94} errs={hcc94Err} cx={720} step={21.2} y={y} from={1} />
      <text x={721} y={513} textAnchor="middle" fontSize={6.2} fill="#333">HCC94</text>
    </g>
  );
};

const App = () => (
  <svg width={777} height={514} viewBox="0 0 777 514" style={{ position: "absolute", left: 0, top: 0, background: "#fff", filter: "blur(0.3px)" }} fontFamily="'Liberation Sans', Arial, sans-serif">
    <defs>
      <linearGradient id="rgGrad" x1="0" x2="0" y1="0" y2="1">
        <stop offset="0" stopColor="#ff0000" /><stop offset=".5" stopColor="#000" /><stop offset="1" stopColor="#00ff00" />
      </linearGradient>
      <linearGradient id="brGrad" x1="0" x2="0" y1="0" y2="1">
        <stop offset="0" stopColor="#ff0000" /><stop offset=".5" stopColor="#fff" /><stop offset="1" stopColor="#2a3fff" />
      </linearGradient>
      <linearGradient id="padjGrad" x1="0" x2="0" y1="0" y2="1">
        <stop offset="0" stopColor="#0000ff" /><stop offset="1" stopColor="#ff0000" />
      </linearGradient>
      <linearGradient id="rowGrad" x1="0" x2="0" y1="0" y2="1">
        <stop offset="0" stopColor="#ff0000" /><stop offset=".5" stopColor="#fff" /><stop offset="1" stopColor="#0000ff" />
      </linearGradient>
    </defs>

    <Letter x={3} y={15} t="A" />
    <Clustered rows={heatA} samples={samplesA} colTree={colTreeA} rowTree={rowTreeAB} color={redGreen} x0={15} x1={112} split={4} dendL={1} dendR={11} annotTop={29} rootTop={15} />
    <ColorBar id="rgGrad" x={113.3} y={32} w={2.7} h={38.7} labels={["4", "2", "0", "-2", "-4"]} />
    <GroupKey x={120} y={33} size={4} />

    <Letter x={142} y={15} t="B" />
    <Clustered rows={heatB} samples={samplesB} colTree={colTreeB} rowTree={rowTreeAB} color={redGreen} x0={156} x1={252.7} split={4} dendL={142} dendR={152} annotTop={29} rootTop={15} />
    <ColorBar id="rgGrad" x={254} y={32} w={2.7} h={38.7} labels={["4", "2", "0", "-2", "-4"]} />
    <GroupKey x={262} y={33.5} size={4.5} />

    <Letter x={280.7} y={15} t="C" />
    <Clustered rows={heatC} samples={samplesC} colTree={colTreeC} rowTree={rowTreeC} color={blueRedSoft} x0={286} x1={386.7} split={3} dendL={279} dendR={283.5} annotTop={29} rootTop={21.7} />
    <ColorBar id="brGrad" x={387.3} y={32} w={2} h={20} labels={["2", "0", "-2"]} />
    <GroupKey x={391.3} y={32} size={3} />

    <Letter x={402} y={15} t="D" />
    <PanelD />

    <Letter x={558} y={15} t="E" />
    <PanelE />

    <Letter x={6.5} y={183} t="F" />
    <PanelF />

    <Letter x={231.5} y={185} t="G" />
    <PanelG />

    <Letter x={387.5} y={185} t="H" />
    <PanelH />

    <Letter x={583} y={185} t="I" />
    <PanelI />

    <Letter x={7} y={366} t="J" />
    <PanelJ />

    <Letter x={401.5} y={369.5} t="K" />
    <PanelK />

    <Letter x={656.5} y={369.5} t="L" />
    <PanelL />
  </svg>
);

export default App;
